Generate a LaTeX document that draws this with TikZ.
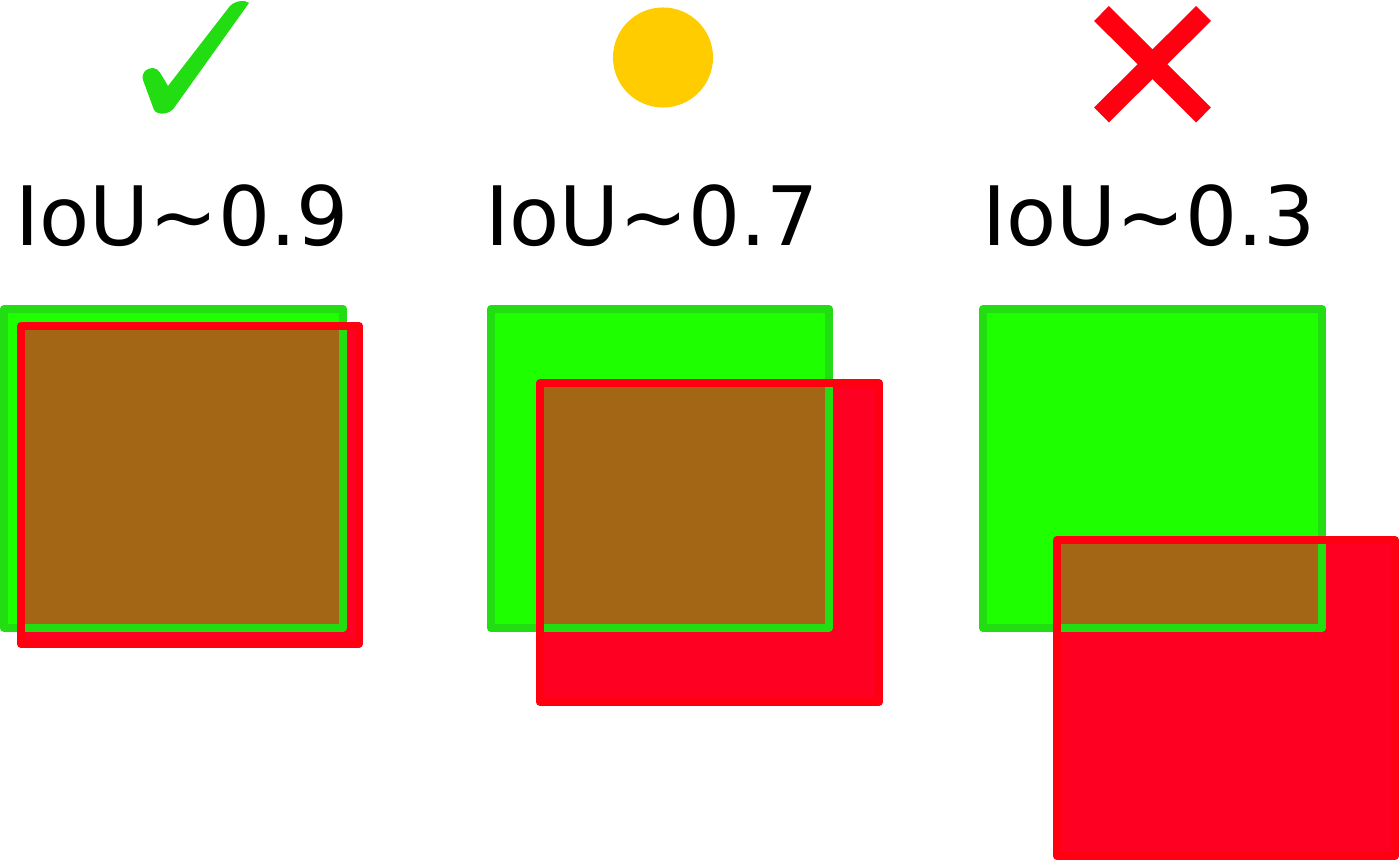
\documentclass[tikz,border=0pt]{standalone}
\usepackage{fontspec}
\setmainfont{DejaVu Sans}
\definecolor{boxgreen}{HTML}{1EFF00}
\definecolor{greenline}{HTML}{22DD11}
\definecolor{boxred}{HTML}{FD0022}
\definecolor{redline}{HTML}{FF0010}
\definecolor{overlap}{HTML}{A36615}
\definecolor{dotyellow}{HTML}{FFCC00}

\begin{document}
\begin{tikzpicture}[x=0.01cm, y=-0.01cm,
    gline/.style={draw=greenline, line width=0.08cm, line join=round},
    rline/.style={draw=redline, line width=0.08cm, line join=round},
    iou/.style={anchor=base, inner sep=0pt, font=\fontsize{23.3}{28}\selectfont},
    dot/.style={circle, fill=dotyellow, minimum size=1cm, inner sep=0pt}]
    \useasboundingbox (0,0) rectangle (1400,862);

    % marks
    \fill[greenline] (143,80) .. controls (141,72) and (147,68) .. (153,68)
        .. controls (158,68) and (161,74) .. (168,86) -- (230,6)
        .. controls (236,0) and (246,0) .. (249,3) -- (174,108)
        .. controls (170,114) and (158,116) .. (154,110) -- cycle;
    \node[dot] (mid) at (663,57.5) {};
    \draw[redline, line width=0.21cm] (1101.5,13.5) -- (1203.5,115);
    \draw[redline, line width=0.21cm] (1203.5,13.5) -- (1101.5,115);

    \node[iou] (labA) at (182,246) {IoU\textasciitilde0.9};
    \node[iou] (labB) at (652,246) {IoU\textasciitilde0.7};
    \node[iou] (labC) at (1149,246) {IoU\textasciitilde0.3};

    % IoU 0.9
    \fill[boxgreen] (4,309) rectangle (343,628);
    \fill[boxred] (21,326) rectangle (359,644);
    \begin{scope}
        \clip (4,309) rectangle (343,628);
        \fill[overlap] (21,326) rectangle (359,644);
    \end{scope}
    \draw[gline] (4,309) rectangle (343,628);
    \draw[rline] (21,326) rectangle (359,644);

    % IoU 0.7
    \fill[boxgreen] (491,309) rectangle (829,628);
    \fill[boxred] (540,383) rectangle (879,702);
    \begin{scope}
        \clip (491,309) rectangle (829,628);
        \fill[overlap] (540,383) rectangle (879,702);
    \end{scope}
    \draw[gline] (491,309) rectangle (829,628);
    \draw[rline] (540,383) rectangle (879,702);

    % IoU 0.3
    \fill[boxgreen] (983,309) rectangle (1322,628);
    \fill[boxred] (1057,540) rectangle (1395,856);
    \begin{scope}
        \clip (983,309) rectangle (1322,628);
        \fill[overlap] (1057,540) rectangle (1395,856);
    \end{scope}
    \draw[gline] (983,309) rectangle (1322,628);
    \draw[rline] (1057,540) rectangle (1395,856);
\end{tikzpicture}
\end{document}
